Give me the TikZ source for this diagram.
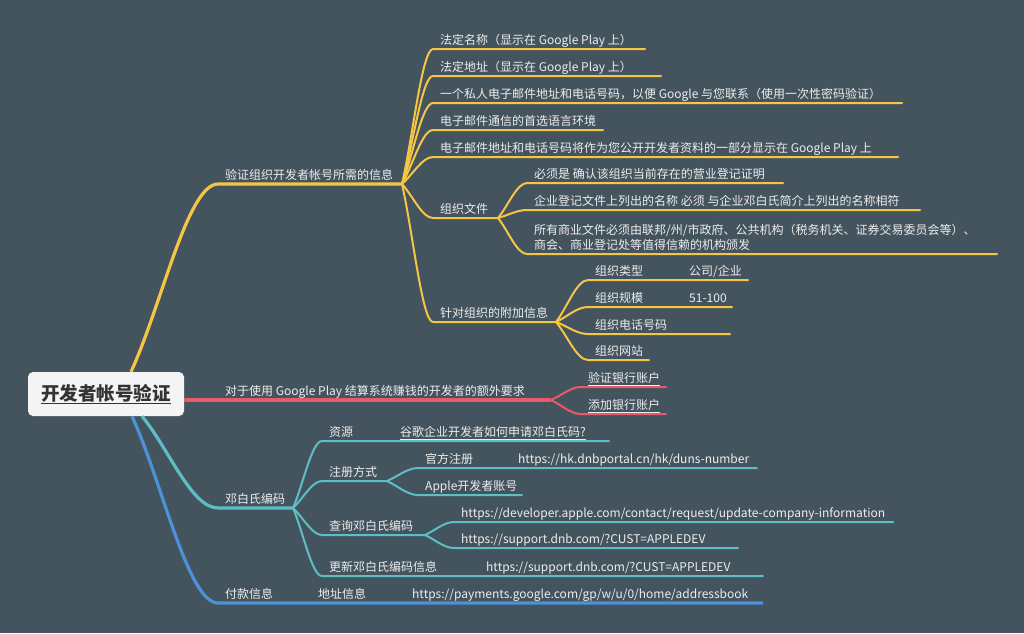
\documentclass[tikz,border=0pt]{standalone}
\usepackage{fontspec}
\setmainfont{Noto Sans CJK SC}
\usetikzlibrary{calc}
\definecolor{bgc}{HTML}{44545E}
\definecolor{cy}{HTML}{F6C545}
\definecolor{cr}{HTML}{E85A6B}
\definecolor{ct}{HTML}{5CBFC3}
\definecolor{cb}{HTML}{4C92D8}
\definecolor{txc}{HTML}{EDEDED}
\definecolor{rootc}{HTML}{F4F4F4}
\definecolor{roottx}{HTML}{333333}
\tikzset{
  topic/.style={anchor=south west, inner xsep=7pt, inner ysep=4pt, text depth=0pt, text=txc, font=\fontsize{12}{15}\selectfont, align=left},
  rootbox/.style={fill=rootc, rounded corners=5pt, minimum width=156pt, minimum height=44pt, inner sep=0pt, text=roottx, font=\fontsize{18.5}{20}\selectfont\bfseries},
  curvy/.style={to path={let \p1=(\tikztostart), \p2=(\tikztotarget) in .. controls ({\x1+0.35*(\x2-\x1)},{\y1+0.35*(\y2-\y1)}) and ({\x2-0.35*(\x2-\x1)},\y2) .. (\tikztotarget)}},
  mainline/.style={line width=3.2pt},
  subline/.style={line width=2pt, line cap=round}
}
\begin{document}
\begin{tikzpicture}[x=1pt,y=-1pt]
\fill[bgc] (0,0) rectangle (1024,633);
\useasboundingbox (0,0) rectangle (1024,633);

% root
\node[rootbox] (root) at (106,394) {\underline{开发者帐号验证}};
\coordinate (rY) at ($(root.north)+(25,0)$);
\coordinate (rR) at ($(root.east)+(0,6)$);
\coordinate (rT) at ($(root.south)+(36,0)$);
\coordinate (rB) at ($(root.south)+(26,0)$);

% ---------- yellow ----------
\node[topic] (Y0) at (218,184) {验证组织开发者帐号所需的信息};
\coordinate (Y0e) at (402,184);
\node[topic] (Y1) at (433,49) {法定名称（显示在 Google Play 上）};
\coordinate (Y1e) at (645,49);
\node[topic] (Y2) at (433,76) {法定地址（显示在 Google Play 上）};
\coordinate (Y2e) at (661,76);
\node[topic] (Y3) at (433,103) {一个私人电子邮件地址和电话号码，以便 Google 与您联系（使用一次性密码验证）};
\coordinate (Y3e) at (902,103);
\node[topic] (Y4) at (433,130) {电子邮件通信的首选语言环境};
\coordinate (Y4e) at (603,130);
\node[topic] (Y5) at (433,157) {电子邮件地址和电话号码将作为您公开开发者资料的一部分显示在 Google Play 上};
\coordinate (Y5e) at (898,157);
\node[topic] (Y6) at (433,218) {组织文件};
\coordinate (Y6e) at (498,218);
\node[topic] (Y61) at (527,183) {必须是 确认该组织当前存在的营业登记证明};
\coordinate (Y61e) at (783,183);
\node[topic] (Y62) at (527,210) {企业登记文件上列出的名称 必须 与企业邓白氏简介上列出的名称相符};
\coordinate (Y62e) at (920,210);
\node[topic] (Y63) at (527,254) {所有商业文件必须由联邦/州/市政府、公共机构（税务机关、证券交易委员会等）、\\商会、商业登记处等值得信赖的机构颁发};
\coordinate (Y63e) at (997,254);
\node[topic] (Y7) at (433,322) {针对组织的附加信息};
\coordinate (Y7e) at (556,322);
\node[topic] (Y71) at (588,280) {组织类型};
\node[topic] (Y711) at (682,280) {公司/企业};
\coordinate (Y711e) at (748,280);
\node[topic] (Y72) at (588,307) {组织规模};
\node[topic] (Y721) at (682,307) {51-100};
\coordinate (Y721e) at (732,307);
\node[topic] (Y73) at (588,334) {组织电话号码};
\coordinate (Y73e) at (730,334);
\node[topic] (Y74) at (588,360) {组织网站};
\coordinate (Y74e) at (649,360);

\draw[mainline,cy] (rY) to[curvy] (Y0.south west) -- (Y0e);
\foreach \k in {Y1,Y2,Y3,Y4,Y5,Y6,Y7}
  \draw[subline,cy] (Y0e) to[curvy] (\k.south west) -- (\k e);
\foreach \k in {Y61,Y62,Y63}
  \draw[subline,cy] (Y6e) to[curvy] (\k.south west) -- (\k e);
\draw[subline,cy] (Y7e) to[curvy] (Y71.south west) -- (Y711.south west) -- (Y711e);
\draw[subline,cy] (Y7e) to[curvy] (Y72.south west) -- (Y721.south west) -- (Y721e);
\draw[subline,cy] (Y7e) to[curvy] (Y73.south west) -- (Y73e);
\draw[subline,cy] (Y7e) to[curvy] (Y74.south west) -- (Y74e);

% ---------- red ----------
\node[topic] (R0) at (218,400) {对于使用 Google Play 结算系统赚钱的开发者的额外要求};
\coordinate (R0e) at (551,400);
\node[topic] (R1) at (581,387) {\underline{验证银行账户}};
\coordinate (R1e) at (666,387);
\node[topic] (R2) at (581,414) {\underline{添加银行账户}};
\coordinate (R2e) at (666,414);
\draw[mainline,cr] (rR) -- (R0.south west) -- (R0e);
\draw[subline,cr] (R0e) to[curvy] (R1.south west) -- (R1e);
\draw[subline,cr] (R0e) to[curvy] (R2.south west) -- (R2e);

% ---------- teal ----------
\node[topic] (T0) at (218,508) {邓白氏编码};
\coordinate (T0e) at (293,508);
\node[topic] (T1) at (322,441) {资源};
\node[topic] (T11) at (393,441) {\underline{谷歌企业开发者如何申请邓白氏码?}};
\coordinate (T11e) at (609,441);
\node[topic] (T2) at (322,481) {注册方式};
\coordinate (T2e) at (387,481);
\node[topic] (T21) at (418,468) {官方注册};
\node[topic] (T211) at (511,468) {https://hk.dnbportal.cn/hk/duns-number};
\coordinate (T211e) at (757,468);
\node[topic] (T22) at (418,495) {Apple开发者账号};
\coordinate (T22e) at (522,495);
\node[topic] (T3) at (322,535) {查询邓白氏编码};
\coordinate (T3e) at (425,535);
\node[topic] (T31) at (454,522) {https://developer.apple.com/contact/request/update-company-information};
\coordinate (T31e) at (893,522);
\node[topic] (T32) at (454,548) {https://support.dnb.com/?CUST=APPLEDEV};
\coordinate (T32e) at (738,548);
\node[topic] (T4) at (322,576) {更新邓白氏编码信息};
\node[topic] (T41) at (479,576) {https://support.dnb.com/?CUST=APPLEDEV};
\coordinate (T41e) at (763,576);

\draw[mainline,ct] (rT) to[curvy] (T0.south west) -- (T0e);
\draw[subline,ct] (T0e) to[curvy] (T1.south west) -- (T11.south west) -- (T11e);
\draw[subline,ct] (T0e) to[curvy] (T2.south west) -- (T2e);
\draw[subline,ct] (T0e) to[curvy] (T3.south west) -- (T3e);
\draw[subline,ct] (T0e) to[curvy] (T4.south west) -- (T41.south west) -- (T41e);
\draw[subline,ct] (T2e) to[curvy] (T21.south west) -- (T211.south west) -- (T211e);
\draw[subline,ct] (T2e) to[curvy] (T22.south west) -- (T22e);
\draw[subline,ct] (T3e) to[curvy] (T31.south west) -- (T31e);
\draw[subline,ct] (T3e) to[curvy] (T32.south west) -- (T32e);

% ---------- blue ----------
\node[topic] (B0) at (218,603) {付款信息};
\node[topic] (B1) at (311,603) {地址信息};
\node[topic] (B11) at (405,603) {https://payments.google.com/gp/w/u/0/home/addressbook};
\coordinate (B11e) at (763,603);
\draw[mainline,cb] (rB) to[curvy] (B0.south west) -- (B1.south west) -- (B11.south west) -- (B11e);
\end{tikzpicture}
\end{document}
